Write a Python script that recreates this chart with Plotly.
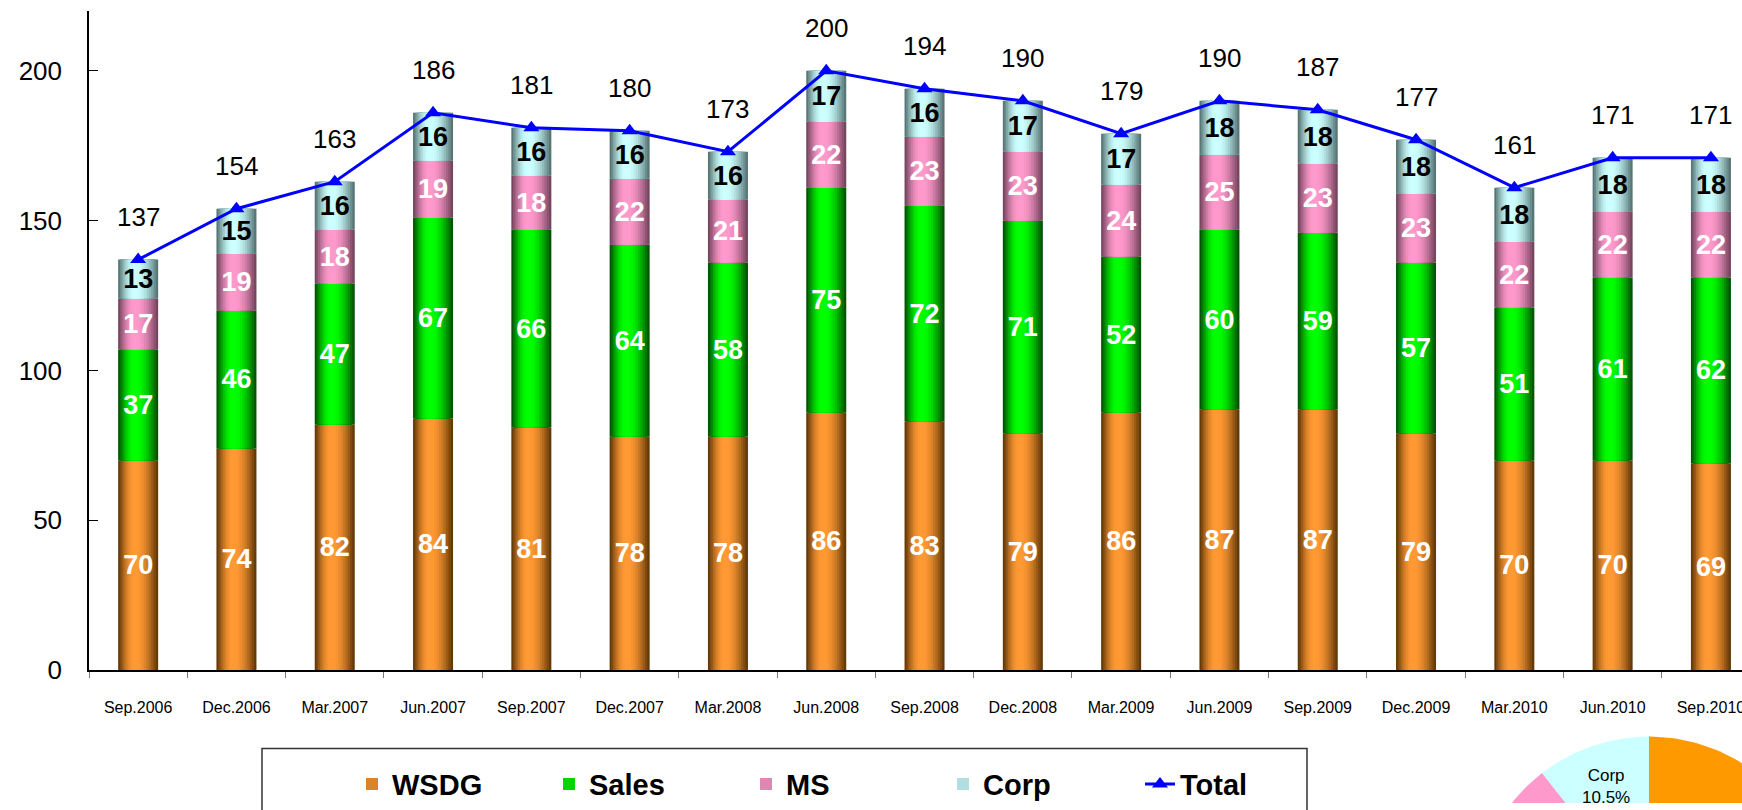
import numpy as np
import plotly.graph_objects as go

categories = ["Sep.2006", "Dec.2006", "Mar.2007", "Jun.2007", "Sep.2007", "Dec.2007",
              "Mar.2008", "Jun.2008", "Sep.2008", "Dec.2008", "Mar.2009", "Jun.2009",
              "Sep.2009", "Dec.2009", "Mar.2010", "Jun.2010", "Sep.2010"]
wsdg = [70, 74, 82, 84, 81, 78, 78, 86, 83, 79, 86, 87, 87, 79, 70, 70, 69]
sales = [37, 46, 47, 67, 66, 64, 58, 75, 72, 71, 52, 60, 59, 57, 51, 61, 62]
ms = [17, 19, 18, 19, 18, 22, 21, 22, 23, 23, 24, 25, 23, 23, 22, 22, 22]
corp = [13, 15, 16, 16, 16, 16, 16, 17, 16, 17, 17, 18, 18, 18, 18, 18, 18]
total = [137, 154, 163, 186, 181, 180, 173, 200, 194, 190, 179, 190, 187, 177, 161, 171, 171]

pie_labels = ["WSDG", "Sales", "MS", "Corp"]
pie_values = [69, 62, 22, 18]
pie_colors = ["#FF9900", "#00CC00", "#FF99CC", "#CCFFFF"]

W, H = 1742, 810
FONT = "Liberation Sans, Arial, sans-serif"
NARROW = "Liberation Sans Narrow, Liberation Sans, Arial, sans-serif"

series = [
    ("WSDG", wsdg, (255, 153, 51), (100, 58, 8), "white"),
    ("Sales", sales, (0, 255, 0), (0, 85, 0), "white"),
    ("MS", ms, (255, 153, 204), (118, 70, 95), "white"),
    ("Corp", corp, (204, 255, 255), (88, 118, 118), "black"),
]

BW = 0.407
N = 10
fig = go.Figure()

base = np.zeros(len(categories))
bases = []
for name, vals, center, edge, tcol in series:
    vals = np.array(vals, dtype=float)
    bases.append(base.copy())
    for k in range(N):
        frac = k / N
        width = BW * (1 - frac)
        offset = -BW / 2 + frac * BW * 0.42
        t = np.sin(np.pi / 2 * k / (N - 1))
        c = tuple(int(round(edge[j] + (center[j] - edge[j]) * t)) for j in range(3))
        col = "rgb(%d,%d,%d)" % c
        fig.add_trace(go.Bar(
            x=categories, y=vals, base=base, width=width, offset=offset,
            marker=dict(color=col, line=dict(width=0)),
            name=name, legendgroup=name, showlegend=(k == 5),
            hoverinfo="skip",
        ))
    base = base + vals

# value labels
for (name, vals, center, edge, tcol), b in zip(series, bases):
    fig.add_trace(go.Bar(
        x=categories, y=vals, base=b, width=BW,
        marker=dict(color="rgba(0,0,0,0)", line=dict(width=0)),
        text=[str(v) for v in vals], textposition="inside", insidetextanchor="middle",
        textangle=0, constraintext="none",
        textfont=dict(family=FONT, size=27, color=tcol, weight="bold"),
        showlegend=False, hoverinfo="skip", legendgroup=name,
    ))

fig.add_trace(go.Scatter(
    x=categories, y=total, mode="lines+markers", name="Total",
    line=dict(color="#0000FF", width=3),
    marker=dict(symbol="triangle-up", size=14, color="#0000FF"),
    cliponaxis=False,
))

# pie (partially visible, bottom right)
cx, cy, R = 1649, 917, 174
fr = np.cumsum([0] + pie_values) / float(sum(pie_values))
for i, lab in enumerate(pie_labels):
    ang = np.linspace(fr[i], fr[i + 1], 80) * 2 * np.pi
    xs = np.concatenate([[cx], cx + R * np.sin(ang), [cx]])
    ys = np.concatenate([[cy], cy - R * np.cos(ang), [cy]])
    fig.add_trace(go.Scatter(
        x=xs, y=ys, xaxis="x2", yaxis="y2", mode="lines", fill="toself",
        fillcolor=pie_colors[i], line=dict(width=0, color=pie_colors[i]),
        showlegend=False, hoverinfo="skip",
    ))

annotations = []
for c, t in zip(categories, total):
    annotations.append(dict(x=c, y=t, xref="x", yref="y", text=str(t), showarrow=False,
                            yshift=43, font=dict(family=FONT, size=26, color="black")))
mid = (fr[3] + fr[4]) / 2 * 2 * np.pi
rt = 131
annotations.append(dict(x=cx + rt * np.sin(mid), y=cy - rt * np.cos(mid), xref="x2", yref="y2",
                        text="%s<br>%.1f%%" % (pie_labels[3], 100 * pie_values[3] / sum(pie_values)),
                        showarrow=False, font=dict(family=FONT, size=17, color="black")))

fig.update_layout(
    width=W, height=H, margin=dict(l=0, r=0, t=0, b=0),
    paper_bgcolor="white", plot_bgcolor="white",
    barmode="overlay",
    font=dict(family=FONT, color="black"),
    xaxis=dict(domain=[89 / W, 1], anchor="y", type="category", range=[-0.5, 16.316],
               showline=True, linecolor="black", linewidth=1.5,
               ticks="outside", ticklen=6, tickcolor="#777", tickson="boundaries",
               tickfont=dict(size=16, family=FONT), ticklabelstandoff=22,
               showgrid=False, zeroline=False, automargin=False),
    yaxis=dict(domain=[134 / H, 799 / H], anchor="x", range=[0, 220],
               tickvals=[0, 50, 100, 150, 200], showline=True, linecolor="black", linewidth=1.5,
               ticks="inside", ticklen=9, tickcolor="black", tickfont=dict(size=26, family=FONT),
               ticklabelstandoff=20, showgrid=False, zeroline=False, automargin=False),
    xaxis2=dict(domain=[1400 / W, 1], anchor="y2", range=[1400, 1742], visible=False),
    yaxis2=dict(domain=[0, 70 / H], anchor="x2", range=[810, 740], visible=False),
    legend=dict(orientation="h", x=352 / W, y=1 - 791 / H, xanchor="left", yanchor="middle",
                font=dict(size=29, family=NARROW, weight="bold", color="black"),
                entrywidth=152, entrywidthmode="pixels", bgcolor="rgba(0,0,0,0)",
                traceorder="normal"),
    shapes=[dict(type="rect", xref="paper", yref="paper", x0=262 / W, x1=1307 / W,
                 y0=1 - 755 / H, y1=-0.05, line=dict(color="#333", width=1.5),
                 fillcolor="rgba(0,0,0,0)", layer="below")],
    annotations=annotations,
    hovermode=False,
)

fig.write_html("out.html")
